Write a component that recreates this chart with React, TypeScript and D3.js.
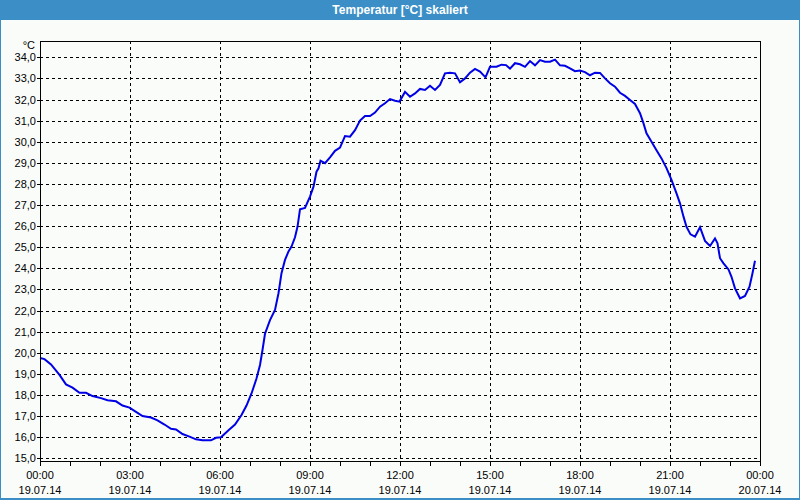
import React from "react";
import * as d3 from "d3";

// minutes after 19.07.14 00:00
const minutes = [
  0, 9, 22, 39, 52, 65, 79, 92, 105, 122, 135, 152, 165, 179, 192, 205, 222, 235, 249, 262,
  272, 285, 299, 312, 325, 342, 352, 362, 377, 390, 403, 413, 423, 433, 440, 445, 450, 460,
  470, 477, 483, 490, 497, 503, 510, 515, 520, 530, 540, 547, 553, 557, 561, 570, 580, 590,
  600, 610, 620, 630, 640, 650, 660, 670, 680, 690, 700, 710, 719, 730, 740, 750, 760, 770,
  780, 790, 800, 810, 820, 830, 840, 850, 860, 870, 880, 891, 900, 913, 923, 932, 940, 950,
  960, 970, 980, 990, 1000, 1010, 1020, 1030, 1040, 1050, 1060, 1070, 1080, 1090, 1100, 1110,
  1120, 1130, 1140, 1150, 1160, 1170, 1180, 1190, 1200, 1207, 1213, 1223, 1233, 1243, 1253,
  1263, 1273, 1280, 1287, 1293, 1301, 1310, 1320, 1330, 1340, 1350, 1355, 1360, 1367, 1377,
  1383, 1390, 1400, 1410, 1419, 1425, 1430,
];

const temps = [
  19.75, 19.7, 19.45, 18.95, 18.5, 18.35, 18.1, 18.1, 17.95, 17.85, 17.75, 17.7, 17.5, 17.4,
  17.2, 17.0, 16.93, 16.8, 16.6, 16.4, 16.37, 16.15, 16.03, 15.9, 15.85, 15.85, 15.97, 16.0,
  16.33, 16.6, 17.05, 17.5, 18.07, 18.78, 19.42, 20.13, 20.9, 21.55, 22.03, 22.82, 23.77, 24.4,
  24.8, 25.03, 25.47, 25.97, 26.8, 26.86, 27.4, 27.87, 28.58, 28.74, 29.1, 28.98, 29.26, 29.57,
  29.72, 30.27, 30.24, 30.55, 31.0, 31.22, 31.22, 31.38, 31.66, 31.82, 32.02, 31.94, 31.9,
  32.36, 32.13, 32.29, 32.5, 32.45, 32.65, 32.45, 32.69, 33.24, 33.27, 33.24, 32.82, 33.0,
  33.27, 33.45, 33.32, 33.05, 33.55, 33.55, 33.65, 33.63, 33.46, 33.72, 33.67, 33.55, 33.82,
  33.62, 33.87, 33.79, 33.79, 33.89, 33.62, 33.6, 33.48, 33.34, 33.37, 33.3, 33.15, 33.27,
  33.26, 33.0, 32.77, 32.61, 32.32, 32.17, 31.98, 31.79, 31.35, 30.87, 30.4, 30.0, 29.6, 29.21,
  28.75, 28.19, 27.55, 27.08, 26.45, 25.97, 25.61, 25.5, 25.95, 25.3, 25.06, 25.42, 25.19,
  24.48, 24.24, 23.95, 23.6, 23.05, 22.58, 22.69, 23.13, 23.77, 24.36,
];

const yTicks = [15, 16, 17, 18, 19, 20, 21, 22, 23, 24, 25, 26, 27, 28, 29, 30, 31, 32, 33, 34];
const xMajorHours = [0, 3, 6, 9, 12, 15, 18, 21, 24];
const xMinorHours = d3.range(0, 25, 1);

const title = "Temperatur [°C] skaliert";
const unitLabel = "°C";

export default function App() {
  const W = 800;
  const H = 500;
  const left = 40;
  const right = 760;
  const top = 41;
  const bottom = 461;

  const start = new Date(2014, 6, 19, 0, 0);
  const end = new Date(2014, 6, 20, 0, 0);
  const toDate = (m: number) => new Date(start.getTime() + m * 60000);

  const x = d3.scaleTime().domain([start, end]).range([left, right]);
  const y = d3.scaleLinear().domain([14.872, 34.772]).range([bottom, top]);

  const data = minutes.map((m, i) => ({ t: toDate(m), v: temps[i] }));
  const line = d3
    .line<{ t: Date; v: number }>()
    .x((d) => x(d.t))
    .y((d) => y(d.v));

  const fmtTime = d3.timeFormat("%H:%M");
  const fmtDate = d3.timeFormat("%d.%m.%y");
  const fmtY = (v: number) => v.toFixed(1).replace(".", ",");
  const cr = (v: number) => Math.round(v) + 0.5;

  const font = "'Liberation Sans', Arial, sans-serif";
  const bg = "#fafcfa";
  const frameBlue = "#3c8fc6";

  return (
    <svg
      width={W}
      height={H}
      style={{ position: "absolute", left: 0, top: 0, display: "block" }}
      fontFamily={font}
    >
      <rect x={0} y={0} width={W} height={H} fill={bg} />
      <rect x={0} y={0} width={W} height={20} fill={frameBlue} />
      <rect x={0.5} y={0.5} width={W - 1} height={H - 1} fill="none" stroke={frameBlue} strokeWidth={1} />
      <line x1={0} x2={W} y1={498.5} y2={498.5} stroke={frameBlue} strokeWidth={1} />
      <text x={400} y={14} textAnchor="middle" fill="#ffffff" fontSize={12} fontWeight="bold">
        {title}
      </text>

      {/* horizontal grid */}
      <g shapeRendering="crispEdges">
        {yTicks.map((v) => (
          <line
            key={"hg" + v}
            x1={left}
            x2={right}
            y1={cr(y(v))}
            y2={cr(y(v))}
            stroke="#000"
            strokeWidth={1}
            strokeDasharray="3,3"
          />
        ))}
        {xMajorHours
          .filter((h) => h > 0 && h < 24)
          .map((h) => {
            const px = cr(x(toDate(h * 60)));
            return (
              <line
                key={"vg" + h}
                x1={px}
                x2={px}
                y1={top}
                y2={bottom}
                stroke="#000"
                strokeWidth={1}
                strokeDasharray="3,3"
              />
            );
          })}
      </g>

      {/* data line */}
      <path d={line(data) || ""} fill="none" stroke="#0000e6" strokeWidth={2} strokeLinejoin="miter" />

      {/* frame */}
      <g shapeRendering="crispEdges" stroke="#000" strokeWidth={1}>
        <line x1={cr(left)} x2={cr(left)} y1={top} y2={bottom + 1} />
        <line x1={cr(right)} x2={cr(right)} y1={top} y2={bottom + 1} />
        <line x1={left} x2={right + 1} y1={cr(top)} y2={cr(top)} />
        <line x1={left} x2={right + 1} y1={cr(bottom)} y2={cr(bottom)} />
        {xMinorHours.map((h) => {
          const px = cr(x(toDate(h * 60)));
          return <line key={"xt" + h} x1={px} x2={px} y1={bottom} y2={bottom + 5} />;
        })}
        {yTicks.map((v) => (
          <line key={"yt" + v} x1={left - 3} x2={left} y1={cr(y(v))} y2={cr(y(v))} />
        ))}
      </g>

      {/* y labels */}
      <g fontSize={11} fill="#000">
        <text x={35} y={49} textAnchor="end">
          {unitLabel}
        </text>
        {yTicks.map((v) => (
          <text key={"yl" + v} x={36} y={y(v) + 4} textAnchor="end">
            {fmtY(v)}
          </text>
        ))}
      </g>

      {/* x labels */}
      <g fontSize={11} fill="#000" textAnchor="middle">
        {xMajorHours.map((h) => {
          const d = toDate(h * 60);
          const px = x(d);
          return (
            <g key={"xl" + h}>
              <text x={px} y={479}>
                {fmtTime(d)}
              </text>
              <text x={px} y={494}>
                {fmtDate(d)}
              </text>
            </g>
          );
        })}
      </g>
    </svg>
  );
}
